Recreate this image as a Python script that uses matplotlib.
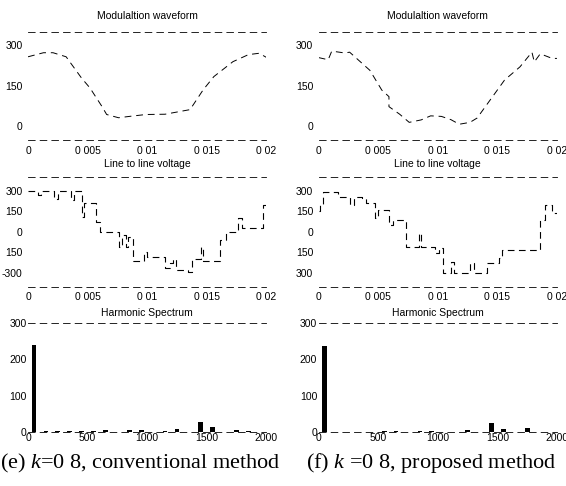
import matplotlib
matplotlib.use("Agg")
import matplotlib.pyplot as plt

plt.rcParams['font.family'] = ['Liberation Sans', 'DejaVu Sans']
plt.rcParams['mathtext.fontset'] = 'custom'
plt.rcParams['mathtext.it'] = 'Liberation Serif:italic'
plt.rcParams['mathtext.rm'] = 'Liberation Serif'

# modulation waveform (time s, value)
t_mod_e = [0, 0.0013, 0.0021, 0.0032, 0.0045, 0.0052, 0.0062, 0.0066, 0.0076, 0.0087,
           0.0099, 0.0115, 0.0136, 0.0147, 0.0156, 0.0172, 0.0185, 0.0194, 0.0200]
v_mod_e = [257, 272, 272, 257, 178, 142, 74, 44, 32, 38, 44, 45, 62, 135, 184, 239, 265, 270, 255]

t_mod_f = [0, 0.0008, 0.0011, 0.0022, 0.0026, 0.0043, 0.0053, 0.0059, 0.0059, 0.0068,
           0.0076, 0.0086, 0.0094, 0.0103, 0.0111, 0.0118, 0.0127, 0.0133, 0.0145, 0.0156,
           0.0169, 0.0179, 0.0181, 0.0186, 0.0196, 0.0200]
v_mod_f = [254, 246, 278, 271, 274, 207, 134, 110, 73, 45, 15, 24, 39, 37, 25, 8, 15, 31,
           104, 171, 220, 274, 238, 268, 251, 251]

# line to line voltage steps (time of each step, level after it)
t_vl_e = [0, 0.0008, 0.0011, 0.0022, 0.0025, 0.0036, 0.0039, 0.0045, 0.0047, 0.0057, 0.0060,
          0.0076, 0.0079, 0.0082, 0.0084, 0.0088, 0.0097, 0.0100, 0.0115, 0.0119, 0.0122,
          0.0124, 0.0134, 0.0138, 0.0145, 0.0147, 0.0161, 0.0166, 0.0176, 0.0180, 0.0197, 0.0200]
v_vl_e = [300, 270, 300, 237, 300, 230, 300, 110, 210, 70, 0, -110, -20, -110, -40, -210,
          -150, -185, -260, -230, -195, -280, -295, -195, -110, -210, -60, 0, 100, 25, 195, 170]

t_vl_f = [0, 0.0001, 0.0004, 0.0016, 0.0026, 0.0030, 0.0036, 0.0040, 0.0047, 0.0050, 0.0059,
          0.0062, 0.0073, 0.0084, 0.0086, 0.0098, 0.0101, 0.0104, 0.0111, 0.0114, 0.0127,
          0.0130, 0.0138, 0.0141, 0.0151, 0.0154, 0.0186, 0.0190, 0.0196, 0.0200]
v_vl_f = [150, 200, 290, 250, 195, 250, 245, 210, 100, 160, 50, 85, -110, -10, -110, -155,
          -120, -300, -220, -300, -230, -300, -300, -230, -190, -135, 85, 195, 135, 135]

# harmonic spectrum
freq_e = [50, 150, 250, 350, 450, 550, 650, 850, 950, 1150, 1250, 1450, 1550, 1750, 1850, 1950]
amp_e = [240, 2, 2, 2, 2, 3, 5, 7, 6, 4, 8, 28, 13, 6, 3, 1]
freq_f = [50, 150, 250, 350, 450, 550, 650, 850, 950, 1250, 1450, 1550, 1650, 1750, 1850, 1950]
amp_f = [237, 1, 1, 1, 1, 2, 2, 4, 3, 6, 24, 9, 1, 10, 1, 1]

t_ticks = [0, 0.005, 0.01, 0.015, 0.02]
t_labels = ["0", "0 005", "0 01", "0 015", "0 02"]
f_ticks = [0, 500, 1000, 1500, 2000]
vl_ticks = [-300, -150, 0, 150, 300]
vl_labels_e = ["-300", "150", "0", "150", "300"]
vl_labels_f = ["300", "150", "0", "150", "300"]

fig = plt.figure(figsize=(5.66, 4.86), dpi=100)

cols = [0.0495, 0.563]
w = 0.421


def style(ax, pad):
    for s in ["left", "right"]:
        ax.spines[s].set_visible(False)
    for s in ["top", "bottom"]:
        ax.spines[s].set_linewidth(0.6)
        ax.spines[s].set_linestyle((0, (8, 6)))
    ax.tick_params(length=0, labelsize=7.5, pad=pad)


for i, (tm, vm, tv, vv, fr, am, vlab) in enumerate([
        (t_mod_e, v_mod_e, t_vl_e, v_vl_e, freq_e, amp_e, vl_labels_e),
        (t_mod_f, v_mod_f, t_vl_f, v_vl_f, freq_f, amp_f, vl_labels_f)]):
    x0 = cols[i]

    ax = fig.add_axes([x0, 0.712, w, 0.223])
    ax.plot(tm, vm, color='black', lw=0.7, linestyle=(0, (7, 5)))
    ax.set_xlim(0, 0.02)
    ax.set_ylim(-50, 350)
    ax.set_xticks(t_ticks)
    ax.set_xticklabels(t_labels)
    ax.set_yticks([0, 150, 300])
    ax.set_title("Modulaltion waveform", fontsize=7.5, pad=9)
    style(ax, 4)

    ax = fig.add_axes([x0, 0.41, w, 0.226])
    ax.step(tv, vv, where='post', color='black', lw=0.8, linestyle=(0, (6, 4)))
    ax.set_xlim(0, 0.02)
    ax.set_ylim(-400, 400)
    ax.set_xticks(t_ticks)
    ax.set_xticklabels(t_labels)
    ax.set_yticks(vl_ticks)
    ax.set_yticklabels(vlab)
    ax.set_title("Line to line voltage", fontsize=7.5, pad=7)
    style(ax, 4)

    ax = fig.add_axes([x0, 0.111, w, 0.225])
    ax.bar(fr, am, width=40, color='black')
    ax.set_xlim(0, 2000)
    ax.set_ylim(0, 300)
    ax.set_xticks(f_ticks)
    ax.set_yticks([0, 100, 200, 300])
    ax.set_title("Harmonic Spectrum", fontsize=7.5, pad=5)
    style(ax, 1)

fig.text(0.248, 0.047, "(e) $k$=0 8, conventional method", fontsize=16,
         family='Liberation Serif', ha='center', va='center')
fig.text(0.762, 0.047, "(f) $k$ =0 8, proposed method", fontsize=16,
         family='Liberation Serif', ha='center', va='center')

fig.savefig("out.png", dpi=100)
